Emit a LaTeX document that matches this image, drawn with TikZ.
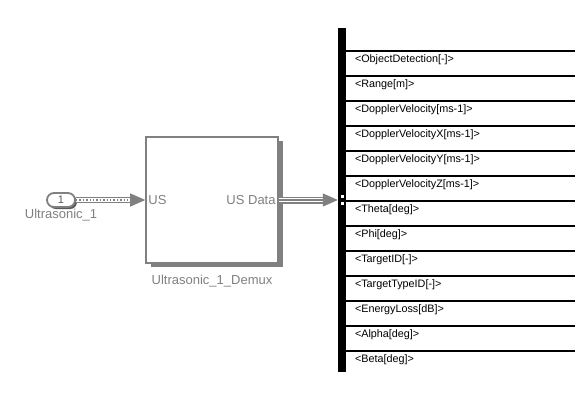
\documentclass[tikz,border=0pt]{standalone}
\usepackage{fontspec}
\setmainfont{Liberation Sans}
\usetikzlibrary{arrows.meta,positioning,shadows}
\definecolor{simgray}{HTML}{808080}
\definecolor{portgray}{HTML}{5A5A5A}
\definecolor{ink}{HTML}{000000}
\tikzset{
  >=Latex,
  every node/.style={text=ink},
  block/.style={draw=simgray,line width=1.6pt,fill=white,minimum width=132pt,minimum height=126pt,
    drop shadow={shadow xshift=5pt,shadow yshift=-4pt,fill=simgray,opacity=1}},
  inportbox/.style={draw=simgray,line width=1.8pt,fill=white,rounded corners=7pt,minimum width=28pt,minimum height=14pt,
    inner sep=0pt,font=\fontsize{11}{12}\selectfont,text=portgray,
    drop shadow={shadow xshift=2pt,shadow yshift=-2pt,fill=portgray,opacity=1}},
  graytext/.style={font=\fontsize{13}{15}\selectfont,text=simgray,inner sep=0pt},
  portlabel/.style={graytext,inner sep=3pt},
  busbar/.style={fill=ink,minimum width=8pt,minimum height=344pt,inner sep=0pt},
  sigcell/.style={minimum width=229pt,text width=211pt,inner xsep=9pt,inner ysep=4pt,outer sep=0pt,align=left,
    text height=7.5pt,text depth=9.5pt,font=\fontsize{10.8}{12}\selectfont},
  sepline/.style={draw=ink,line width=1.8pt},
  portmark/.style={draw=ink,fill=white,line width=0.6pt,minimum size=4pt,inner sep=0pt},
  sigline/.style={draw=simgray,dotted,line width=1.4pt,
    preaction={draw=simgray,solid,line width=6pt},preaction={draw=white,solid,line width=3.6pt}},
  busline/.style={draw=simgray,line width=1.6pt,
    preaction={draw=simgray,line width=7pt},preaction={draw=white,line width=4.4pt}},
  tiparr/.style={draw=simgray,line width=1pt,-{Triangle[length=15pt,width=13pt]},fill=simgray},
}

\begin{document}
\begin{tikzpicture}[x=1pt,y=-1pt]
\useasboundingbox (0,0) rectangle (575,400);

\node[inportbox] (inport) at (61,200) {1};
\node[graytext,below=1pt of inport] (inportcap) {Ultrasonic\_1};

\node[block] (demux) at (212,200) {};
\node[portlabel,anchor=west] (usin) at (demux.west) {US};
\node[portlabel,anchor=east] (usout) at (demux.east) {US Data};
\node[graytext,below=11pt of demux] (demuxcap) {Ultrasonic\_1\_Demux};

\node[busbar] (bus) at (342,200) {};
\node[portmark] (markA) at (342.5,196.5) {};
\node[portmark] (markB) at (342.5,203) {};

\node[sigcell,anchor=north west] (objdet) at (346,51) {<ObjectDetection[-]>};
\node[sigcell,below=0pt of objdet] (range) {<Range[m]>};
\node[sigcell,below=0pt of range] (dopv) {<DopplerVelocity[ms-1]>};
\node[sigcell,below=0pt of dopv] (dopvx) {<DopplerVelocityX[ms-1]>};
\node[sigcell,below=0pt of dopvx] (dopvy) {<DopplerVelocityY[ms-1]>};
\node[sigcell,below=0pt of dopvy] (dopvz) {<DopplerVelocityZ[ms-1]>};
\node[sigcell,below=0pt of dopvz] (theta) {<Theta[deg]>};
\node[sigcell,below=0pt of theta] (phi) {<Phi[deg]>};
\node[sigcell,below=0pt of phi] (tgtid) {<TargetID[-]>};
\node[sigcell,below=0pt of tgtid] (tgttype) {<TargetTypeID[-]>};
\node[sigcell,below=0pt of tgttype] (eloss) {<EnergyLoss[dB]>};
\node[sigcell,below=0pt of eloss] (alpha) {<Alpha[deg]>};
\node[sigcell,below=0pt of alpha] (beta) {<Beta[deg]>};

\foreach \n in {objdet,range,dopv,dopvx,dopvy,dopvz,theta,phi,tgtid,tgttype,eloss,alpha,beta}
  \draw[sepline] (\n.north west) -- (\n.north east);

% signal lines with their heads
\coordinate[left=15pt of demux.west] (usinhead);
\coordinate[left=15pt of bus.west] (bushead);
\draw[sigline] (inport.east) -- (usinhead);
\draw[tiparr] (usinhead) -- (demux.west);
\draw[busline] (demux.east) -- (bushead);
\draw[tiparr] (bushead) -- (bus.west);

\end{tikzpicture}
\end{document}
